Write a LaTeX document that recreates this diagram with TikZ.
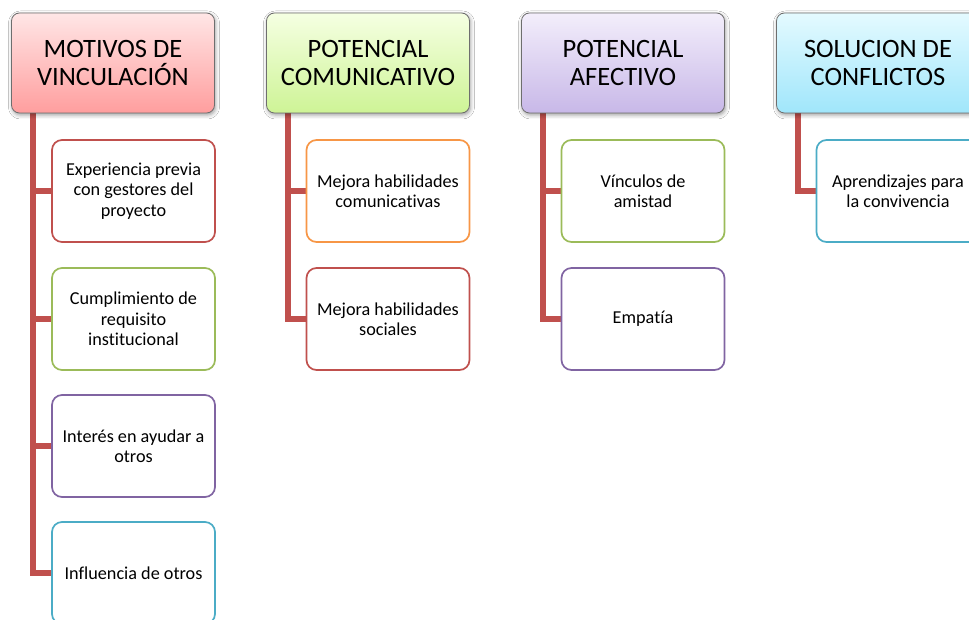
\documentclass[tikz,border=0pt]{standalone}
\usepackage{fontspec}
\setmainfont{Carlito}[Ligatures=NoCommon]
\usetikzlibrary{shadows.blur,backgrounds}

\definecolor{linkred}{RGB}{192,80,77}
\definecolor{hdrline}{RGB}{110,110,110}
\definecolor{bred}{RGB}{192,80,77}
\definecolor{bgreen}{RGB}{155,187,89}
\definecolor{bpurple}{RGB}{128,100,162}
\definecolor{bblue}{RGB}{75,172,198}
\definecolor{borange}{RGB}{247,150,70}
\definecolor{pinktop}{RGB}{255,230,230}
\definecolor{pinkbot}{RGB}{255,158,158}
\definecolor{greentop}{RGB}{245,255,226}
\definecolor{greenbot}{RGB}{206,244,150}
\definecolor{purpletop}{RGB}{243,238,251}
\definecolor{purplebot}{RGB}{200,184,232}
\definecolor{cyantop}{RGB}{228,250,255}
\definecolor{cyanbot}{RGB}{160,230,251}

\begin{document}
\begin{tikzpicture}[x=1pt,y=-1pt,
  header/.style={draw=hdrline, line width=0.8pt, rounded corners=8pt,
    minimum width=203pt, minimum height=100pt, align=center,
    font=\fontsize{26.5}{28}\selectfont,
    blur shadow={shadow xshift=1pt, shadow yshift=-2pt,
      shadow blur radius=4pt, shadow opacity=40}},
  item/.style={draw, fill=white, line width=1.7pt, rounded corners=10pt,
    minimum width=163pt, minimum height=102pt,
    align=center, font=\fontsize{18.2}{20.5}\selectfont},
  link/.style={draw=linkred, line width=6pt}
]
\clip (0,0) rectangle (969,620);
\useasboundingbox (0,0) rectangle (969,620);

% column headers
\node[header, top color=pinktop, bottom color=pinkbot] (h1) at (113,63) {MOTIVOS DE\\VINCULACIÓN};
\node[header, top color=greentop, bottom color=greenbot] (h2) at (368,63) {POTENCIAL\\COMUNICATIVO};
\node[header, top color=purpletop, bottom color=purplebot] (h3) at (623,63) {POTENCIAL\\AFECTIVO};
\node[header, top color=cyantop, bottom color=cyanbot] (h4) at (878,63) {SOLUCION DE\\CONFLICTOS};

% items of column 1
\node[item, draw=bred] (a1) at (133.5,191) {Experiencia previa\\con gestores del\\proyecto};
\node[item, draw=bgreen] (a2) at (133.5,319) {Cumplimiento de\\requisito\\institucional};
\node[item, draw=bpurple] (a3) at (133.5,446) {Interés en ayudar a\\otros};
\node[item, draw=bblue] (a4) at (133.5,573) {Influencia de otros};

% items of column 2
\node[item, draw=borange] (b1) at (388,191) {Mejora habilidades\\comunicativas};
\node[item, draw=bred] (b2) at (388,319) {Mejora habilidades\\sociales};

% items of column 3
\node[item, draw=bgreen] (c1) at (643,191) {Vínculos de\\amistad};
\node[item, draw=bpurple] (c2) at (643,319) {Empatía};

% item of column 4
\node[item, draw=bblue] (d1) at (898,191) {Aprendizajes para\\la convivencia};

% trunk start points under each header
\coordinate (t1) at (33,113);
\coordinate (t2) at (288,113);
\coordinate (t3) at (543,113);
\coordinate (t4) at (798,113);

\begin{scope}[on background layer]
  \fill[white] (0,0) rectangle (969,620);
  \draw[link] (t1) |- (a4.west);
  \draw[link] (t1) |- (a1.west);
  \draw[link] (t1) |- (a2.west);
  \draw[link] (t1) |- (a3.west);
  \draw[link] (t2) |- (b2.west);
  \draw[link] (t2) |- (b1.west);
  \draw[link] (t3) |- (c2.west);
  \draw[link] (t3) |- (c1.west);
  \draw[link] (t4) |- (d1.west);
\end{scope}
\end{tikzpicture}
\end{document}
